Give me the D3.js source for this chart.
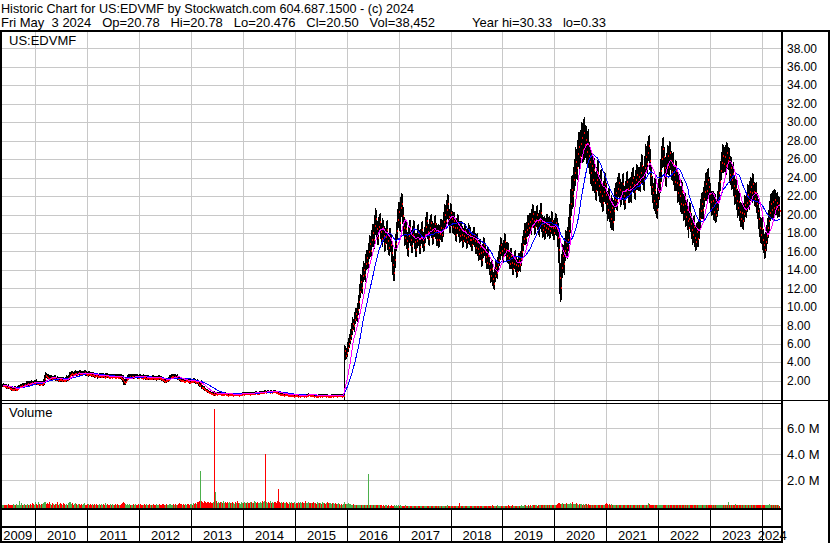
<!DOCTYPE html>
<html>
<head>
<meta charset="utf-8">
<script src="https://cdn.jsdelivr.net/npm/d3@7"></script>
<style>
  body { margin: 0; background: #fff; }
  svg { display: block; }
  text { font-family: "Liberation Sans", Arial, sans-serif; font-size: 13px; fill: #000; }
</style>
</head>
<body>
<svg id="chart" width="830" height="543"></svg>
<script>
// weekly closes, May 2009 .. May 3 2024
var closes = [
  1.5,1.55,1.45,1.4,1.35,1.4,1.3,1.25,1.2,1.15,
  1.1,1.15,1.2,1.1,1.15,1.25,1.35,1.4,1.45,1.5,
  1.45,1.55,1.6,1.55,1.7,1.75,1.7,1.8,1.75,1.8,
  1.85,1.8,1.75,1.85,1.9,1.8,1.75,1.8,1.7,1.75,
  1.7,1.75,1.9,2.3,2.6,2.5,2.4,2.35,2.3,2.4,
  2.3,2.25,2.35,2.3,2.2,2.25,2.15,2.1,2.2,2.15,
  2.1,2.2,2.1,2.05,2.15,2.3,2.2,2.4,2.6,2.75,
  2.8,2.75,2.7,2.8,2.85,2.75,2.8,2.9,2.85,2.8,
  2.75,2.8,2.85,2.9,2.8,2.75,2.7,2.8,2.75,2.7,
  2.65,2.7,2.6,2.55,2.65,2.6,2.5,2.55,2.6,2.5,
  2.55,2.6,2.5,2.45,2.55,2.6,2.5,2.45,2.4,2.5,
  2.45,2.5,2.55,2.45,2.4,2.5,2.45,2.4,2.5,2.45,
  2.35,2.2,1.95,1.85,2.0,2.2,2.35,2.45,2.5,2.45,
  2.5,2.55,2.45,2.5,2.55,2.5,2.45,2.4,2.5,2.45,
  2.4,2.35,2.45,2.4,2.3,2.35,2.4,2.3,2.25,2.35,
  2.3,2.4,2.35,2.3,2.25,2.3,2.35,2.4,2.3,2.25,
  2.2,2.15,2.05,2.0,2.1,2.05,2.15,2.2,2.3,2.45,
  2.5,2.55,2.45,2.5,2.4,2.45,2.35,2.3,2.2,2.1,
  2.05,2.1,2.0,1.95,2.05,2.1,2.0,1.95,1.9,1.95,
  2.0,1.95,2.05,1.95,1.9,1.95,1.85,1.7,1.55,1.75,
  1.35,1.3,1.2,1.1,1.0,0.95,0.85,0.8,0.75,0.7,
  0.65,0.6,0.7,0.55,0.65,0.6,0.65,0.7,0.65,0.6,
  0.6,0.55,0.6,0.65,0.6,0.55,0.5,0.55,0.6,0.55,
  0.55,0.5,0.55,0.6,0.55,0.6,0.55,0.5,0.55,0.6,
  0.6,0.65,0.6,0.65,0.7,0.65,0.7,0.65,0.6,0.65,
  0.7,0.65,0.7,0.65,0.7,0.75,0.7,0.65,0.7,0.75,
  0.75,0.8,0.75,0.8,0.85,0.8,0.85,0.9,0.85,0.8,
  0.85,0.8,0.85,0.9,0.85,0.8,0.75,0.7,0.65,0.6,
  0.55,0.6,0.55,0.5,0.55,0.6,0.55,0.5,0.45,0.5,
  0.45,0.5,0.45,0.4,0.45,0.5,0.45,0.4,0.45,0.4,
  0.45,0.5,0.45,0.4,0.45,0.4,0.45,0.5,0.55,0.5,
  0.45,0.5,0.45,0.4,0.45,0.4,0.35,0.4,0.45,0.4,
  0.45,0.4,0.45,0.5,0.45,0.4,0.45,0.4,0.35,0.4,
  0.4,0.45,0.4,0.45,0.5,0.45,0.4,0.45,0.5,0.45,
  0.45,0.4,0.45,0.5,5.3,4.8,5.1,5.6,6.1,6.5,
  7.0,7.6,8.2,8.0,8.7,9.3,9.0,9.8,10.6,11.7,
  12.8,12.2,13.5,14.1,13.6,14.8,15.4,14.9,16.1,16.9,
  16.2,17.4,18.1,17.3,18.9,19.6,18.5,17.6,18.8,19.3,
  18.2,17.5,18.6,17.8,16.9,17.7,18.4,17.2,16.5,17.6,
  16.8,15.9,14.6,13.8,15.2,16.9,18.3,19.5,20.4,19.2,
  20.8,21.3,19.9,18.7,17.6,18.5,17.2,16.4,17.8,18.6,
  17.4,16.7,17.9,18.5,17.1,16.3,17.2,18.1,17.5,16.6,
  17.6,18.4,17.3,16.8,17.9,18.8,19.4,18.2,17.5,18.6,
  19.2,18.4,17.6,18.3,19.1,18.2,17.4,18.1,17.3,18.0,
  18.7,17.9,18.5,19.3,20.1,19.4,20.6,21.2,19.8,18.9,
  20.3,19.6,18.8,19.4,18.6,17.9,18.7,19.2,18.4,17.8,
  18.5,17.9,17.2,17.8,18.3,17.6,17.1,17.7,18.2,17.4,
  17.9,17.3,16.8,17.5,17.9,17.2,16.5,17.1,16.4,15.8,
  16.6,15.9,15.2,16.1,16.8,16.2,15.5,14.9,15.6,14.8,
  14.1,13.4,14.2,13.1,12.6,13.5,14.3,13.8,14.6,15.2,
  15.9,16.8,16.2,15.5,16.4,17.1,16.3,15.6,16.2,15.4,
  14.8,15.6,14.9,14.2,14.8,15.4,14.6,13.9,14.5,15.1,
  14.6,15.3,16.1,16.8,17.5,18.2,17.6,18.4,19.1,18.6,
  19.3,18.7,19.6,20.2,19.4,18.8,19.5,20.1,19.3,18.7,
  19.4,20.3,19.1,18.4,18.9,18.2,18.7,19.2,18.5,18.9,
  18.3,18.8,19.4,18.6,18.1,18.7,19.2,18.5,17.6,16.3,
  13.2,12.1,14.3,15.6,14.8,16.2,17.1,16.5,17.4,18.3,
  19.6,21.2,22.8,22.1,23.9,24.6,25.8,25.1,26.7,27.4,
  26.3,27.8,28.4,27.1,28.9,27.6,28.2,26.9,27.8,26.5,
  25.8,24.6,25.4,23.8,24.9,23.5,22.7,23.9,24.6,23.2,
  22.5,23.6,22.1,21.4,22.6,23.4,22.2,21.3,20.6,21.8,
  20.4,19.6,20.8,19.3,20.5,21.7,22.4,21.6,22.9,23.5,
  22.8,21.9,22.6,23.4,22.1,21.5,22.7,23.6,22.9,22.2,
  23.1,22.4,23.5,24.1,23.3,22.6,23.8,24.4,23.6,24.2,
  23.5,24.6,25.4,24.2,23.8,25.1,26.3,25.6,26.8,27.5,
  25.9,24.3,23.1,22.4,21.6,22.8,21.2,20.6,21.9,22.7,
  23.5,24.8,26.1,27.2,26.3,25.1,24.2,25.5,26.4,25.3,
  26.8,25.9,24.7,25.6,24.4,23.6,24.8,23.5,22.4,23.3,
  22.1,21.3,22.5,21.1,20.4,21.2,19.8,20.6,19.4,18.7,
  19.6,20.3,19.1,18.4,17.9,18.8,17.6,17.1,18.2,17.5,
  18.4,19.6,20.5,21.3,20.6,21.8,22.6,23.4,22.7,23.9,
  23.1,22.3,21.5,20.8,21.6,20.4,21.2,20.1,20.7,21.5,
  22.4,23.6,24.8,25.7,26.4,25.6,26.3,25.4,26.8,25.9,
  26.2,24.4,25.1,23.8,24.5,23.2,22.1,22.9,21.6,20.8,
  21.5,20.4,19.6,20.3,19.4,20.2,21.1,20.6,21.4,22.2,
  21.6,22.5,23.1,22.4,23.4,22.6,21.8,22.4,21.3,20.5,
  19.6,18.7,17.9,18.5,17.4,16.8,16.3,17.1,17.8,18.6,
  19.4,20.3,21.2,20.6,21.5,20.8,21.7,20.9,21.4,20.6,21.1,20.5
];

// weekly range beyond the close-to-close move, in cents
var spreads = [
  18,22,15,18,25,16,20,18,15,22, 16,20,18,22,15,18,24,16,20,18,
  22,18,16,20,25,18,22,16,20,18, 24,16,20,18,22,25,18,16,22,20,
  18,22,27,36,32,25,22,29,24,20, 25,22,18,24,27,20,22,25,18,24,
  22,18,25,20,24,29,22,27,32,25, 22,27,20,24,29,22,25,20,24,27,
  22,25,20,24,27,22,18,25,22,24, 20,24,22,25,18,22,27,20,24,22,
  25,20,22,18,24,27,22,20,25,22, 18,24,22,20,25,22,18,24,20,22,
  25,32,40,29,27,24,22,25,20,22, 24,20,22,25,18,22,24,20,22,18,
  22,20,24,18,25,22,20,24,22,18, 20,24,22,18,22,25,20,18,24,22,
  22,18,24,20,22,25,20,24,27,22, 25,20,22,24,18,22,25,20,22,24,
  20,22,18,24,20,22,18,22,20,24, 22,18,24,20,22,18,25,24,27,22,
  28,22,18,20,16,14,18,13,14,11, 12,11,14,16,11,9,12,11,9,11,
  9,11,8,9,11,9,8,9,11,8, 9,8,11,9,8,9,11,8,9,9,
  11,9,8,11,9,12,9,11,8,9, 9,11,9,8,11,9,12,9,11,9,
  11,9,12,11,14,11,9,12,11,9, 11,12,9,11,9,11,12,9,11,9,
  8,9,8,9,6,8,9,8,6,8, 6,8,6,8,6,8,6,6,8,6,
  8,6,8,6,8,6,8,8,9,6, 6,8,6,8,6,6,8,6,6,8,
  6,8,6,6,8,6,8,6,6,8, 6,6,8,6,8,6,6,8,6,8,
  6,8,6,8,60,50,45,55,50,60, 55,60,65,50,70,60,55,65,70,80,
  75,70,80,85,70,90,80,75,85,90, 80,95,90,85,100,110,90,85,95,80,
  90,85,100,80,95,85,90,100,85,95, 90,100,110,95,105,100,90,110,95,100,
  110,105,95,90,100,85,95,90,100,85, 80,90,85,95,80,90,85,80,90,85,
  85,80,90,85,80,95,90,85,80,90, 80,90,85,80,75,90,85,80,90,85,
  80,85,90,95,100,90,95,105,90,85, 90,85,80,90,85,80,90,85,80,90,
  75,80,85,75,80,70,80,75,85,70, 75,80,70,75,80,70,75,80,85,80,
  75,80,85,75,80,70,75,80,85,75, 70,80,75,85,70,75,80,70,75,80,
  75,80,70,75,80,85,75,70,80,75, 70,75,80,70,75,70,80,75,70,75,
  75,80,85,90,80,85,90,80,85,90, 90,85,95,90,85,100,90,85,95,90,
  110,100,95,90,85,95,90,85,90,85, 90,85,95,90,85,90,95,85,110,150,
  180,160,140,120,110,130,120,110,130,140, 150,160,140,150,130,140,150,130,140,150,
  150,140,160,150,140,170,150,140,130,150, 140,130,150,120,130,120,110,120,130,120,
  110,120,130,110,100,120,110,120,130,110, 120,110,130,100,110,120,100,110,120,100,
  100,110,90,100,110,100,90,100,110,100, 90,100,110,95,100,90,100,110,95,100,
  100,110,120,100,110,120,130,110,120,100, 110,120,100,110,100,120,110,100,110,120,
  110,120,130,110,120,100,110,120,110,100, 120,110,100,110,120,100,110,100,110,100,
  110,100,120,100,110,100,110,100,110,120, 100,110,100,110,120,100,110,100,90,100,
  100,110,120,100,110,120,100,110,120,100, 110,100,110,100,90,100,110,100,90,100,
  110,120,100,110,120,110,100,120,110,100, 110,100,120,110,100,120,110,100,110,120,
  100,110,100,90,100,110,100,90,100,110, 100,110,100,90,110,100,90,100,110,100,
  120,110,100,110,120,100,110,100,110,100, 110,120,100,110,100,120,110,100,90,100,90,80
];

// weekly volume, thousands of shares
var volumes = [
  60,40,110,70,90,50,140,80,40,100, 70,130,80,50,160,90,60,380,90,200,
  110,80,150,60,90,130,60,80,170,110, 80,240,150,100,300,160,110,280,130,90,
  190,120,260,320,280,150,220,120,300,170, 110,230,140,90,190,120,300,100,160,220,
  140,90,200,120,70,170,110,250,330,280, 160,210,110,140,240,120,90,190,140,110,
  150,90,120,200,110,70,140,170,100,120, 110,150,70,120,90,190,110,80,140,90,
  120,70,150,110,200,90,120,70,110,140, 90,120,70,110,150,80,120,100,70,110,
  140,250,330,200,150,110,140,90,120,70, 110,80,140,90,120,70,110,150,90,120,
  70,110,90,140,80,120,70,110,150,90, 110,70,120,90,80,140,110,70,120,100,
  90,120,150,110,70,140,90,110,190,120, 110,70,140,90,120,80,110,140,200,150,
  120,90,150,110,140,70,120,170,110,140, 150,110,200,140,250,170,320,280,380,2700,
  350,300,250,400,280,210,340,300,220,310, 270,210,320,7500,1100,360,250,310,200,340,
  280,220,360,210,290,250,340,200,280,240, 210,310,250,170,290,220,350,200,270,180,
  290,240,200,340,270,210,310,250,200,290, 220,320,270,210,360,280,240,340,220,270,
  310,250,350,280,390,4000,340,250,290,220, 350,270,310,220,340,280,250,360,1300,290,
  250,320,220,290,200,270,340,240,180,280, 220,290,200,250,340,180,270,220,290,200,
  280,210,310,240,200,350,250,210,290,220, 200,270,220,310,210,250,170,280,220,200,
  240,180,290,210,250,170,220,280,200,240, 210,170,250,200,140,220,180,150,210,130,
  110,140,100,130,300,180,150,120,200,160, 140,110,90,130,80,100,70,110,90,60,
  80,60,100,70,90,50,80,60,2500,90, 60,80,50,70,40,60,50,70,40,50,
  40,50,30,45,35,50,40,30,45,35, 30,40,35,25,45,30,40,35,50,30,
  40,30,25,35,30,40,25,30,35,20, 25,30,20,35,25,30,20,25,30,20,
  25,20,30,25,20,30,25,20,35,25, 20,25,30,20,25,20,30,25,20,25,
  30,25,20,30,25,35,30,40,35,30, 25,30,20,35,25,30,20,25,30,230,
  30,25,20,30,25,20,30,25,20,30, 25,20,30,25,20,25,30,20,25,20,
  30,25,20,25,30,20,25,30,20,25, 30,35,25,40,30,35,25,30,40,35,
  30,25,35,30,25,30,35,25,30,40, 30,25,35,40,30,25,30,35,30,25,
  35,30,40,35,30,45,40,35,30,40, 35,40,30,45,60,90,50,40,35,45,
  50,40,60,45,55,40,50,60,45,70, 60,50,70,55,60,80,65,90,120,200,
  250,180,150,220,160,140,120,230,180,150, 160,200,140,280,180,150,120,240,130,110,
  150,120,180,100,140,90,120,160,100,130, 90,110,80,100,70,90,60,80,100,70,
  60,80,70,90,60,110,140,260,180,90, 120,80,160,70,90,60,80,50,70,60,
  50,70,60,40,60,50,70,45,60,50, 40,60,50,70,45,55,40,60,50,45,
  60,50,70,45,55,60,80,100,70,260, 120,70,90,60,80,50,70,60,80,55,
  60,50,70,45,60,80,50,60,70,45, 50,60,45,55,40,60,50,45,55,40,
  50,45,60,40,55,45,50,40,60,45, 50,60,45,55,40,50,60,45,50,55,
  60,50,45,55,60,50,45,55,50,60, 45,55,50,40,55,45,50,60,45,50,
  55,60,50,65,55,70,60,50,55,65, 330,60,50,70,55,60,90,130,70,60,
  55,60,50,45,55,60,50,45,55,60, 50,55,60,70,50,60,45,55,60,50,
  60,70,80,60,90,110,80,70,60,80, 90,130,100,80,110,90,70,100,80,60,70,38
];

var priceTicks = [2, 4, 6, 8, 10, 12, 14, 16, 18, 20, 22, 24, 26, 28, 30, 32, 34, 36, 38];
var volumeTicks = [2, 4, 6];   // millions
var yearLabels = [2009, 2010, 2011, 2012, 2013, 2014, 2015, 2016, 2017, 2018, 2019, 2020, 2021, 2022, 2023, 2024];
var headerTitle = "Historic Chart for US:EDVMF by Stockwatch.com 604.687.1500 - (c) 2024";
var headerQuote = "Fri May  3 2024   Op=20.78   Hi=20.78   Lo=20.476   Cl=20.50   Vol=38,452";
var headerRange = "Year hi=30.33   lo=0.33";
var symbol = "US:EDVMF";
var lastDate = new Date(2024, 4, 3);
var fastPeriod = 10, slowPeriod = 20;

var svg = d3.select("#chart");
var plotR = 782, priceTop = 31, volBottom = 508;

var weeks = closes.map(function(c, i) { return d3.timeDay.offset(lastDate, (i - closes.length + 1) * 7); });

var x = d3.scaleTime()
  .domain([new Date(2009, 3, 30), new Date(2024, 4, 20)])
  .range([0, plotR]);
var yPrice = d3.scaleLinear().domain([0, 40]).range([399.2, 29.9]);
var yVol = d3.scaleLinear().domain([0, 8]).range([506, 402.4]);

var yearStarts = yearLabels.slice(1).map(function(y) { return new Date(y, 0, 1); });
var gridX = yearStarts.map(function(d) { return Math.round(x(d)) + 0.5; });

function movingAverage(values, n) {
  return values.map(function(v, i) {
    return d3.mean(values.slice(Math.max(0, i - n + 1), i + 1));
  });
}
function keepSpaces(s) { return s.replace(/ /g, "\u00a0"); }

// ---- grid ----
var grid = svg.append("g").attr("stroke", "#c8c8c8").attr("shape-rendering", "crispEdges");
grid.selectAll("line.v").data(gridX).enter().append("line")
  .attr("x1", function(d) { return d; }).attr("x2", function(d) { return d; })
  .attr("y1", priceTop).attr("y2", volBottom);
grid.selectAll("line.hp").data(priceTicks).enter().append("line")
  .attr("x1", 0).attr("x2", plotR)
  .attr("y1", function(d) { return Math.round(yPrice(d)) + 0.5; })
  .attr("y2", function(d) { return Math.round(yPrice(d)) + 0.5; });
grid.selectAll("line.hv").data(volumeTicks).enter().append("line")
  .attr("x1", 0).attr("x2", plotR)
  .attr("y1", function(d) { return Math.round(yVol(d)) + 0.5; })
  .attr("y2", function(d) { return Math.round(yVol(d)) + 0.5; });

// ---- price bars: black high-low, red close tick ----
var priceG = svg.append("g").attr("shape-rendering", "crispEdges");
var bars = closes.map(function(c, i) {
  var prev = i > 0 ? closes[i - 1] : c;
  var s = spreads[i] / 100;
  return { x: Math.floor(x(weeks[i])), hi: Math.max(prev, c) + s, lo: Math.min(prev, c) - s, close: c };
});
priceG.selectAll("rect.bar").data(bars).enter().append("rect")
  .attr("x", function(d) { return d.x; })
  .attr("width", 1)
  .attr("y", function(d) { return Math.round(yPrice(d.hi)); })
  .attr("height", function(d) { return Math.max(1, Math.round(yPrice(d.lo)) - Math.round(yPrice(d.hi))); })
  .attr("fill", "#000");
priceG.selectAll("rect.tick").data(bars).enter().append("rect")
  .attr("x", function(d) { return d.x + 1; })
  .attr("width", 1)
  .attr("y", function(d) { return Math.round(yPrice(d.close)); })
  .attr("height", 2)
  .attr("fill", "#ff0000");

// ---- moving averages ----
var maLine = d3.line()
  .x(function(d, i) { return Math.floor(x(weeks[i])) + 0.5; })
  .y(function(d) { return yPrice(d); });
svg.append("path").datum(movingAverage(closes, slowPeriod))
  .attr("d", maLine).attr("fill", "none").attr("stroke", "#0000ff")
  .attr("stroke-width", 1).attr("shape-rendering", "crispEdges");
svg.append("path").datum(movingAverage(closes, fastPeriod))
  .attr("d", maLine).attr("fill", "none").attr("stroke", "#ff00ff")
  .attr("stroke-width", 1).attr("shape-rendering", "crispEdges");

// ---- volume ----
svg.append("g").attr("shape-rendering", "crispEdges")
  .selectAll("rect").data(volumes).enter().append("rect")
  .attr("x", function(d, i) { return Math.floor(x(weeks[i])); })
  .attr("width", 1)
  .attr("y", function(d) { return Math.round(yVol(d / 1000)); })
  .attr("height", function(d) { return volBottom - Math.round(yVol(d / 1000)); })
  .attr("fill", function(d, i) { return i > 0 && closes[i] < closes[i - 1] ? "#ff0000" : "#4cb04c"; });

// ---- frame ----
var frame = svg.append("g").attr("stroke", "#000").attr("shape-rendering", "crispEdges");
function hline(x1, x2, y, w) {
  frame.append("line").attr("x1", x1).attr("x2", x2).attr("y1", y).attr("y2", y).attr("stroke-width", w || 1);
}
function vline(xv, y1, y2, w) {
  frame.append("line").attr("x1", xv).attr("x2", xv).attr("y1", y1).attr("y2", y2).attr("stroke-width", w || 1);
}
hline(0, 830, 31, 2);
vline(1, 30, 543, 2);
vline(plotR, 30, 543, 2);
vline(829, 30, 543, 2);
hline(0, plotR, 400.5);
hline(0, plotR, 403.5);
hline(plotR, 830, 400.5);
hline(0, plotR, 509, 2);
hline(0, plotR, 527, 2);
hline(0, plotR, 542, 2);
gridX.forEach(function(gx) { vline(gx, 509, 542); });

// ---- texts ----
svg.append("text").attr("x", 1).attr("y", 13).style("font-size", "12.6px").text(headerTitle);
svg.append("text").attr("x", 1).attr("y", 26.5).text(keepSpaces(headerQuote));
svg.append("text").attr("x", 472).attr("y", 26.5).text(keepSpaces(headerRange));
svg.append("text").attr("x", 9).attr("y", 45).text(symbol);
svg.append("text").attr("x", 9).attr("y", 417).text("Volume");

svg.selectAll("text.py").data(priceTicks).enter().append("text")
  .attr("x", 787).attr("y", function(d) { return yPrice(d); }).attr("dy", "0.35em")
  .style("font-size", "12px")
  .text(function(d) { return d3.format(".2f")(d); });
svg.selectAll("text.vy").data(volumeTicks).enter().append("text")
  .attr("x", 787).attr("y", function(d) { return yVol(d); }).attr("dy", "0.35em")
  .text(function(d) { return d3.format(".1f")(d) + " M"; });

var yearEdges = [0].concat(gridX, [plotR]);
svg.selectAll("text.yr").data(yearLabels).enter().append("text")
  .attr("x", function(d, i) { return (yearEdges[i] + yearEdges[i + 1]) / 2; })
  .attr("y", 539.5).attr("text-anchor", "middle")
  .text(function(d) { return d; });
</script>
</body>
</html>
